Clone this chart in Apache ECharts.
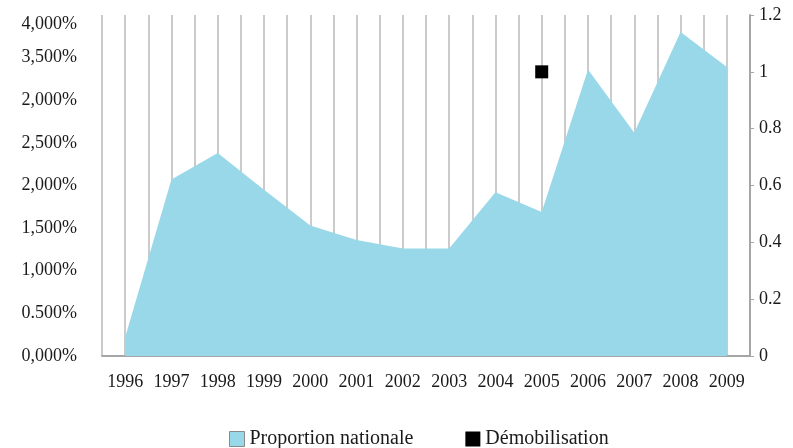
<!DOCTYPE html>
<html>
<head>
<meta charset="utf-8">
<script src="https://cdn.jsdelivr.net/npm/echarts@6/dist/echarts.min.js"></script>
<style>
  html, body { margin: 0; padding: 0; background: #fff; }
  #main { width: 793px; height: 448px; }
</style>
</head>
<body>
<div id="main"></div>
<script>
var years = ['1996', '1997', '1998', '1999', '2000', '2001', '2002', '2003', '2004', '2005', '2006', '2007', '2008', '2009'];
var proportion = [0.22, 2.07, 2.38, 1.95, 1.53, 1.36, 1.26, 1.26, 1.92, 1.69, 3.36, 2.62, 3.80, 3.39];
// démobilisation (axe de droite)
var demob = ['-', '-', '-', '-', '-', '-', '-', '-', '-', 1, '-', '-', '-', '-'];
// étiquettes de l'axe de gauche telles qu'imprimées
var leftTicks = ['0,000%', '0.500%', '1,000%', '1,500%', '2,000%', '2,500%', '2,000%', '3,500%', '4,000%'];

var font = '"Liberation Serif", "DejaVu Serif", serif';
var txt = '#1a1a1a';

var option = {
    animation: false,
    textStyle: { fontFamily: font },
    grid: { left: 102, right: 43, top: 15, bottom: 92 },
    legend: {
        left: 224,
        top: 424,
        itemGap: 52,
        itemWidth: 15,
        itemHeight: 15,
        textStyle: { fontFamily: font, fontSize: 20, color: txt },
        data: [
            { name: 'Proportion nationale', icon: 'rect', itemStyle: { color: '#99d8e9', borderColor: '#8a8a8a', borderWidth: 1 } },
            { name: 'Démobilisation', icon: 'rect', itemStyle: { color: '#000', opacity: 1 } }
        ]
    },
    xAxis: [
        {
            type: 'category',
            data: years,
            boundaryGap: true,
            axisLine: { lineStyle: { color: '#a6a6a6', width: 2 } },
            axisTick: { show: false },
            axisLabel: { color: txt, fontSize: 18, fontFamily: font, margin: 17, interval: 0, hideOverlap: false },
            splitLine: { show: false }
        },
        {
            // grille verticale toutes les demi-catégories
            type: 'value',
            min: 0,
            max: 28,
            interval: 1,
            position: 'top',
            axisLine: { show: false },
            axisTick: { show: false },
            axisLabel: { show: false },
            splitLine: { show: true, lineStyle: { color: '#c6c6c6', width: 1.8 } }
        }
    ],
    yAxis: [
        {
            type: 'value',
            min: 0,
            max: 4,
            interval: 0.5,
            axisLine: { show: false },
            axisTick: { show: false },
            splitLine: { show: false },
            axisLabel: {
                color: txt,
                fontSize: 18,
                fontFamily: font,
                margin: 25,
                verticalAlignMaxLabel: 'top',
                formatter: function (v) { return leftTicks[Math.round(v / 0.5)]; }
            }
        },
        {
            type: 'value',
            min: 0,
            max: 1.2,
            interval: 0.2,
            position: 'right',
            axisLine: { show: true, lineStyle: { color: '#a6a6a6', width: 2 } },
            axisTick: { show: true, length: 4, lineStyle: { color: '#a6a6a6' } },
            splitLine: { show: false },
            axisLabel: {
                color: txt,
                fontSize: 18,
                fontFamily: font,
                margin: 9,
                formatter: function (v) { return String(Math.round(v * 10) / 10); }
            }
        }
    ],
    series: [
        {
            name: 'Proportion nationale',
            type: 'line',
            xAxisIndex: 0,
            yAxisIndex: 0,
            data: proportion,
            symbol: 'none',
            lineStyle: { width: 0, color: '#99d8e9' },
            itemStyle: { color: '#99d8e9' },
            areaStyle: { color: '#99d8e9', opacity: 1 }
        },
        {
            name: 'Démobilisation',
            type: 'scatter',
            xAxisIndex: 0,
            yAxisIndex: 1,
            data: demob,
            symbol: 'rect',
            symbolSize: 13,
            itemStyle: { color: '#000', opacity: 1 }
        }
    ]
};

echarts.init(document.getElementById('main')).setOption(option);
</script>
</body>
</html>
